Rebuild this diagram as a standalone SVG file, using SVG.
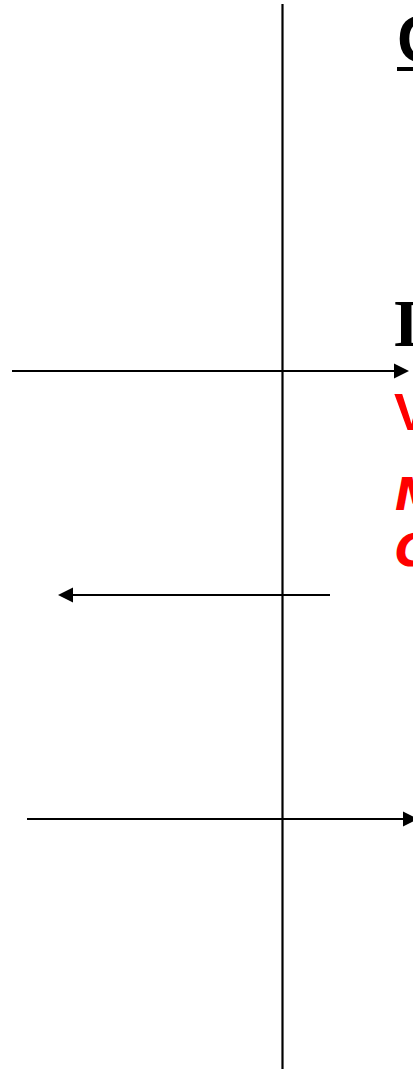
<svg xmlns="http://www.w3.org/2000/svg" width="413" height="1071" viewBox="0 0 413 1071">
<style>
.ln{stroke:#000;stroke-width:2.2;fill:none}
.blk{fill:#000}
.red{fill:#ff0000}
</style>
<defs>
<marker id="ah" markerWidth="7" markerHeight="7" refX="6" refY="3.5" orient="auto" markerUnits="strokeWidth">
<path d="M0,0 L7,3.5 L0,7 z" fill="#000"/>
</marker>
</defs>
<rect width="413" height="1071" fill="#fff"/>
<g id="connectors">
<line class="ln" x1="282.5" y1="4" x2="282.5" y2="1069"/>
<line class="ln" x1="12" y1="371" x2="407" y2="371" marker-end="url(#ah)"/>
<line class="ln" x1="330" y1="595" x2="60" y2="595" marker-end="url(#ah)"/>
<line class="ln" x1="27" y1="819" x2="416" y2="819" marker-end="url(#ah)"/>
</g>
<g id="label-c">
<text x="397" y="62" class="blk" font-family="Liberation Sans, sans-serif" font-weight="bold" font-size="66">C</text>
<rect x="397" y="67" width="20" height="4" class="blk"/>
</g>
<g id="label-i">
<text x="393" y="346" class="blk" font-family="Liberation Serif, serif" font-weight="bold" font-size="68">I</text>
</g>
<g id="label-v">
<text x="394" y="430" class="red" font-family="Liberation Sans, sans-serif" font-weight="bold" font-size="52">V</text>
</g>
<g id="label-m">
<text x="395" y="510" class="red" font-family="DejaVu Sans, sans-serif" font-style="italic" font-weight="bold" font-size="44">M</text>
</g>
<g id="label-c2">
<text x="395" y="566" class="red" font-family="DejaVu Sans, sans-serif" font-style="italic" font-weight="bold" font-size="44">C</text>
</g>
</svg>
